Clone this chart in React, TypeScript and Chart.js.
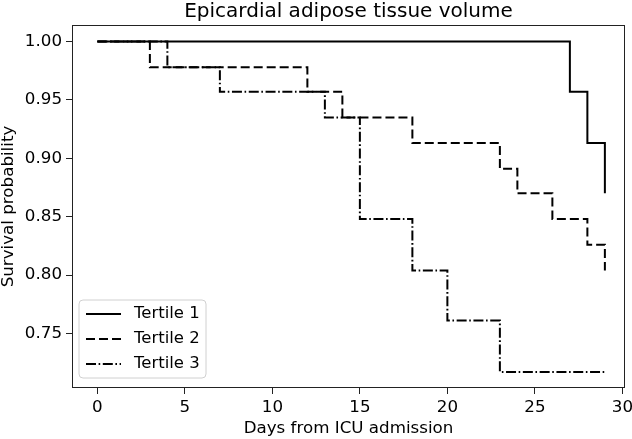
import React, { useEffect, useRef } from "react";
import { Chart, registerables } from "chart.js";

Chart.register(...registerables);

// Kaplan–Meier step points (day, survival probability)
const tertile1Days = [0, 27, 28, 29];
const tertile1Surv = [1.0, 0.957, 0.913, 0.870];

const tertile2Days = [0, 3, 12, 14, 18, 23, 24, 26, 28, 29];
const tertile2Surv = [1.0, 0.978, 0.957, 0.935, 0.913, 0.891, 0.870, 0.848, 0.826, 0.804];

const tertile3Days = [0, 4, 7, 13, 15, 18, 20, 23, 29];
const tertile3Surv = [1.0, 0.978, 0.957, 0.935, 0.848, 0.804, 0.761, 0.717, 0.717];

const seriesLabels = ["Tertile 1", "Tertile 2", "Tertile 3"];

const xTicks = [0, 5, 10, 15, 20, 25, 30];
const yTicks = [0.75, 0.8, 0.85, 0.9, 0.95, 1.0];

const titleText = "Epicardial adipose tissue volume";
const xLabel = "Days from ICU admission";
const yLabel = "Survival probability";

const toPoints = (xs: number[], ys: number[]) => xs.map((x, i) => ({ x, y: ys[i] }));

const framePlugin = {
  id: "frame",
  afterDatasetsDraw(chart: any) {
    const { ctx, chartArea } = chart;
    ctx.save();
    ctx.strokeStyle = "#222";
    ctx.lineWidth = 1;
    ctx.strokeRect(
      Math.round(chartArea.left) + 0.5,
      Math.round(chartArea.top) + 0.5,
      Math.round(chartArea.right - chartArea.left) - 1,
      Math.round(chartArea.bottom - chartArea.top) - 1
    );
    ctx.restore();
  },
};

const legendPlugin = {
  id: "mplLegend",
  afterDraw(chart: any) {
    const { ctx, chartArea } = chart;
    const ds = chart.data.datasets;
    const boxX = chartArea.left + 7;
    const boxW = 127;
    const boxH = 78;
    const boxY = chartArea.bottom - 10 - boxH;
    ctx.save();
    ctx.beginPath();
    const r = 4;
    ctx.moveTo(boxX + r, boxY);
    ctx.lineTo(boxX + boxW - r, boxY);
    ctx.arcTo(boxX + boxW, boxY, boxX + boxW, boxY + r, r);
    ctx.lineTo(boxX + boxW, boxY + boxH - r);
    ctx.arcTo(boxX + boxW, boxY + boxH, boxX + boxW - r, boxY + boxH, r);
    ctx.lineTo(boxX + r, boxY + boxH);
    ctx.arcTo(boxX, boxY + boxH, boxX, boxY + boxH - r, r);
    ctx.lineTo(boxX, boxY + r);
    ctx.arcTo(boxX, boxY, boxX + r, boxY, r);
    ctx.closePath();
    ctx.fillStyle = "rgba(255,255,255,0.8)";
    ctx.fill();
    ctx.strokeStyle = "#d0d0d0";
    ctx.lineWidth = 1;
    ctx.stroke();

    ctx.font = "16.5px 'DejaVu Sans'";
    ctx.textBaseline = "middle";
    ctx.textAlign = "left";
    ds.forEach((d: any, i: number) => {
      const cy = boxY + 14 + i * 25;
      ctx.beginPath();
      ctx.setLineDash(d.borderDash || []);
      ctx.strokeStyle = "#000";
      ctx.lineWidth = d.borderWidth;
      ctx.moveTo(boxX + 7, cy);
      ctx.lineTo(boxX + 42, cy);
      ctx.stroke();
      ctx.setLineDash([]);
      ctx.fillStyle = "#000";
      ctx.fillText(d.label, boxX + 55, cy);
    });
    ctx.restore();
  },
};

export default function App() {
  const ref = useRef<HTMLCanvasElement | null>(null);

  useEffect(() => {
    if (!ref.current) return;
    Chart.defaults.font.family = "'DejaVu Sans'";
    Chart.defaults.color = "#000";
    const chart = new Chart(ref.current, {
      type: "line",
      data: {
        datasets: [
          {
            label: seriesLabels[0],
            data: toPoints(tertile1Days, tertile1Surv),
            borderColor: "#000",
            borderWidth: 2,
            borderDash: [],
            stepped: "before",
            pointRadius: 0,
            fill: false,
          },
          {
            label: seriesLabels[1],
            data: toPoints(tertile2Days, tertile2Surv),
            borderColor: "#000",
            borderWidth: 2,
            borderDash: [9, 4],
            stepped: "before",
            pointRadius: 0,
            fill: false,
          },
          {
            label: seriesLabels[2],
            data: toPoints(tertile3Days, tertile3Surv),
            borderColor: "#000",
            borderWidth: 2,
            borderDash: [10, 2.6, 1.6, 2.6],
            stepped: "before",
            pointRadius: 0,
            fill: false,
          },
        ] as any,
      },
      options: {
        animation: false,
        responsive: false,
        layout: { padding: { left: 0, right: 7, top: 0, bottom: 0 } },
        plugins: {
          legend: { display: false },
          tooltip: { enabled: false },
          title: {
            display: true,
            fullSize: false,
            text: titleText,
            color: "#000",
            font: { size: 20, weight: "normal", lineHeight: 1 },
            padding: { top: 2, bottom: 3 },
          },
        },
        scales: {
          x: {
            type: "linear",
            min: -1.45,
            max: 30.15,
            afterBuildTicks: (scale: any) => {
              scale.ticks = xTicks.map((v) => ({ value: v }));
            },
            afterFit: (scale: any) => {
              scale.height = 51;
              scale.paddingRight = 0;
              scale.paddingLeft = 0;
            },
            ticks: {
              autoSkip: false,
              maxRotation: 0,
              padding: 4,
              font: { size: 16.7 },
              color: "#000",
              callback: (v: any) => String(v),
            },
            grid: {
              drawOnChartArea: false,
              drawTicks: true,
              tickLength: 6,
              tickColor: "#222",
              tickWidth: 1,
            },
            border: { display: false },
            title: {
              display: true,
              text: xLabel,
              color: "#000",
              font: { size: 16.7, lineHeight: 1.2 },
              padding: { top: 0, bottom: 0 },
            },
          },
          y: {
            type: "linear",
            min: 0.7033,
            max: 1.0141,
            afterBuildTicks: (scale: any) => {
              scale.ticks = yTicks.map((v) => ({ value: v }));
            },
            afterFit: (scale: any) => {
              scale.width = 72;
            },
            ticks: {
              autoSkip: false,
              padding: 4,
              font: { size: 16.7 },
              color: "#000",
              callback: (v: any) => Number(v).toFixed(2),
            },
            grid: {
              drawOnChartArea: false,
              drawTicks: true,
              tickLength: 6,
              tickColor: "#222",
              tickWidth: 1,
            },
            border: { display: false },
            title: {
              display: true,
              text: yLabel,
              color: "#000",
              font: { size: 16.7, lineHeight: 1 },
              padding: { top: 0, bottom: 0 },
            },
          },
        },
      },
      plugins: [framePlugin, legendPlugin],
    });
    return () => chart.destroy();
  }, []);

  return (
    <div style={{ position: "absolute", left: 0, top: 0, width: 632, height: 439, background: "#fff" }}>
      <canvas ref={ref} width={632} height={439} style={{ display: "block" }} />
    </div>
  );
}
